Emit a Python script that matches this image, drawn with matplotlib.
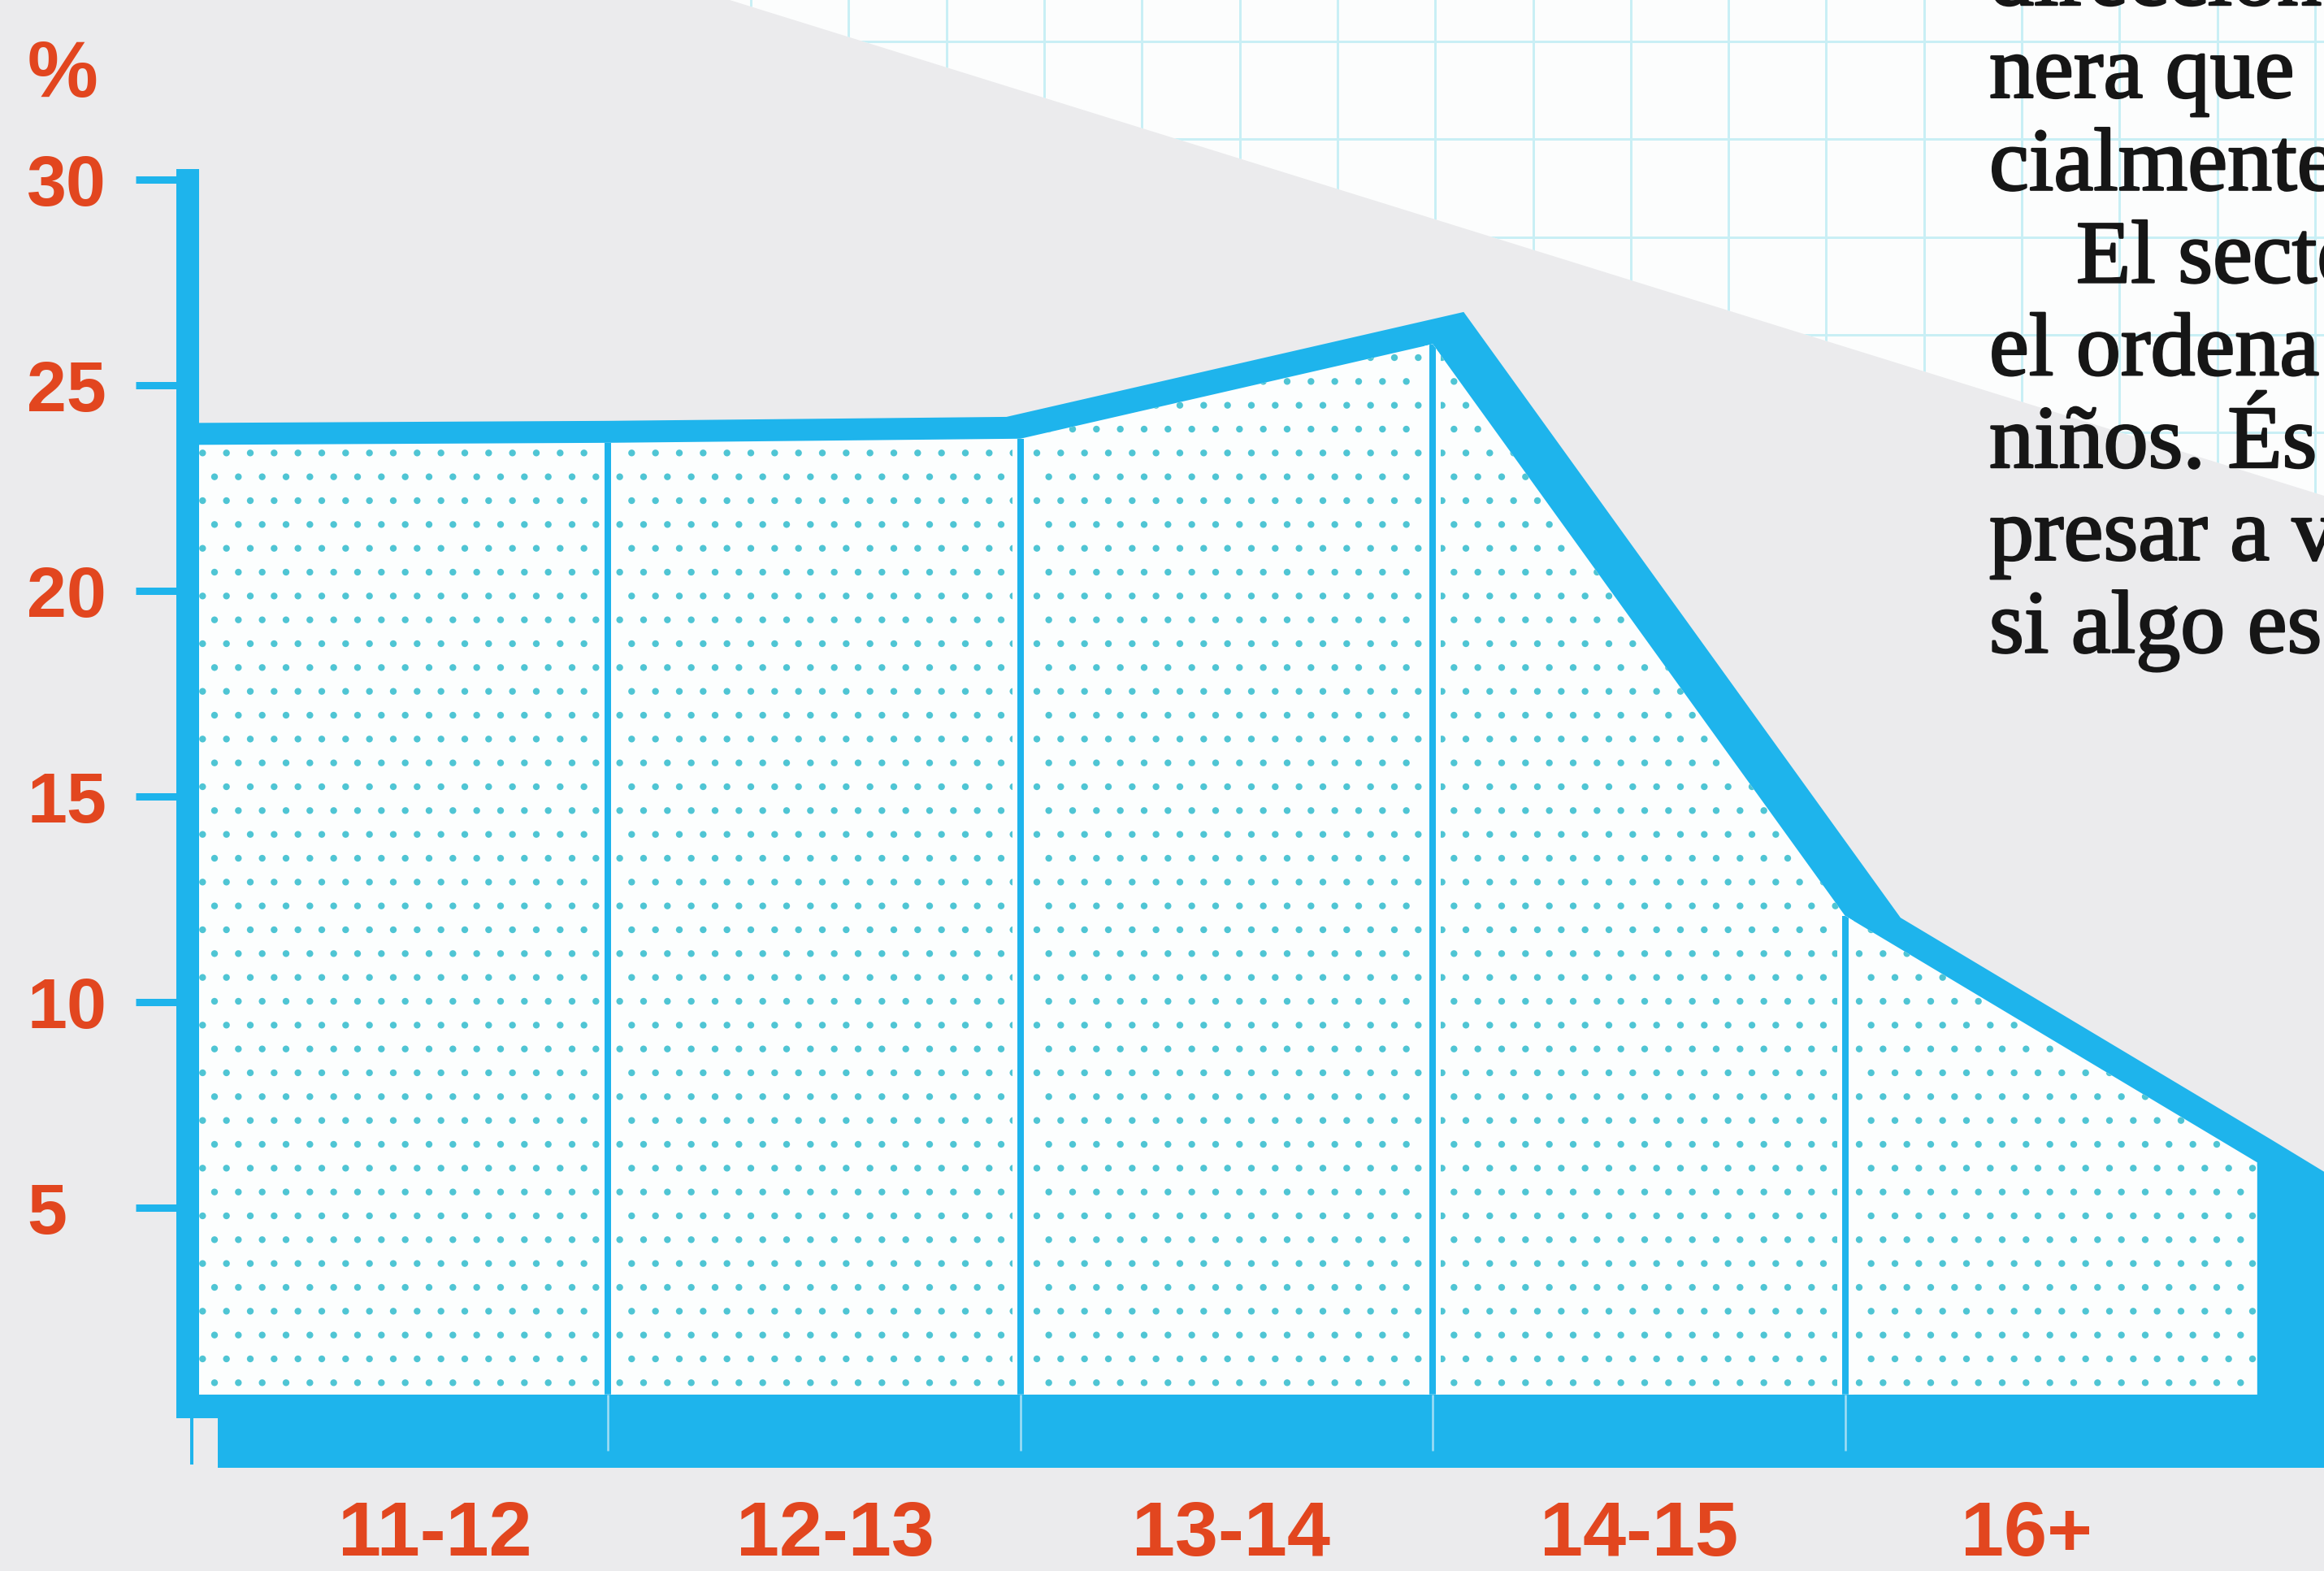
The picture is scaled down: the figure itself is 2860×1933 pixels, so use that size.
import matplotlib
matplotlib.use("Agg")
import matplotlib.pyplot as plt
from matplotlib.patches import Polygon
import matplotlib.patheffects as pe
import numpy as np

# ---------------- data ----------------
age_bounds = [11, 12, 13, 14, 15, 16, 17]          # 17 lies beyond the cropped edge
share_pct = [23.55, 23.6, 23.7, 26.0, 12.1, 6.1, 0.0]
age_labels = ["11-12", "12-13", "13-14", "14-15", "16+"]
y_ticks = [5, 10, 15, 20, 25, 30]
y_ticklabels = ["5", "10", "15", "20", "25", "30"]
y_unit = "%"
text_lines = ["dirección", "nera que", "cialmente", "El secto", "el ordena",
              "niños. És", "presar a v", "si algo es"]

# ---------------- style / layout ----------------
W, H, DPI = 2860, 1933, 176
PT = 72.0 / DPI
BLUE = "#1eb4ec"
DOT = "#4fc5d4"
FILL = "#fcfefe"
GREY = "#ebebed"
PAPER = "#fcfdfd"
GRID = "#c9eff5"
RED = "#e2461f"
INK = "#161616"
LABEL_FONT = ["Liberation Sans", "DejaVu Sans"]

plt.rcParams["hatch.color"] = DOT
plt.rcParams["hatch.linewidth"] = 1.0

fig = plt.figure(figsize=(W / DPI, (H + 0.01) / DPI), dpi=DPI)
ax = fig.add_axes([0, 0, 1, 1])
x0px, xscale = 241.15, 507.34
y0px, yscale = 1739.0, 50.6
ax.set_xlim(11 - x0px / xscale, 11 + (W - x0px) / xscale)
ax.set_ylim((y0px - H) / yscale, y0px / yscale)
ax.set_facecolor(GREY)

# paper background: white grid paper above a diagonal shadow edge
paper = Polygon([(898 / W, 1.0), (1.0, 1.0), (1.0, 1 - 610 / H)], closed=True,
                transform=ax.transAxes, facecolor=PAPER, edgecolor="none", zorder=0.1)
ax.add_patch(paper)
for gx in np.arange(82, W, 120.3):
    ln, = ax.plot([gx / W, gx / W], [0, 1], transform=ax.transAxes, color=GRID,
                  lw=3 * PT, zorder=0.2)
    ln.set_clip_path(paper)
for gy in np.arange(51, H, 120.3):
    ln, = ax.plot([0, 1], [1 - gy / H, 1 - gy / H], transform=ax.transAxes, color=GRID,
                  lw=3 * PT, zorder=0.2)
    ln.set_clip_path(paper)

# thick outline sitting on top of the area edge (variable thickness per segment)
seg_thick_px = [27, 27, 30, 54, 33, 33]
P = ax.transData.transform(np.column_stack([age_bounds, share_pct]))
d = P[1:] - P[:-1]
d = d / np.hypot(d[:, 0], d[:, 1])[:, None]
nrm = np.column_stack([-d[:, 1], d[:, 0]])
t = np.array(seg_thick_px, float)
outer = []
a0 = P[0] + t[0] * nrm[0]
s0 = (P[0, 0] - a0[0]) / d[0, 0]
outer.append(a0 + s0 * d[0])
for j in range(1, len(P) - 1):
    A = P[j] + t[j - 1] * nrm[j - 1]
    B = P[j] + t[j] * nrm[j]
    M = np.column_stack([d[j - 1], -d[j]])
    if abs(np.linalg.det(M)) < 1e-6:
        outer.append((A + B) / 2)
    else:
        s, _ = np.linalg.solve(M, B - A)
        outer.append(A + s * d[j - 1])
outer.append(P[-1] + t[-1] * nrm[-1])
inner = P - np.array([0, 5.0])
ring = np.vstack([np.array(outer), inner[::-1]])
ring_data = ax.transData.inverted().transform(ring)
ax.fill(ring_data[:, 0], ring_data[:, 1], color=BLUE, lw=0, zorder=2)

base_top, base_bot = 0.46, -1.32
n_main = len(age_labels) + 1
area = ax.fill_between(age_bounds[:n_main], share_pct[:n_main], base_top,
                       facecolor=FILL, edgecolor=DOT, hatch=".", linewidth=0, zorder=3)
ax.fill_between(age_bounds[n_main - 1:], share_pct[n_main - 1:], base_bot,
                facecolor=BLUE, edgecolor="none", linewidth=0, zorder=3)

# category dividers, clipped to the dotted area
clip_path = area.get_paths()[0]
inner_x = age_bounds[1:n_main - 1]
tops = share_pct[1:n_main - 1]
v1 = ax.vlines(inner_x, base_top, tops, colors=FILL, lw=20 * PT, zorder=4)
v2 = ax.vlines(inner_x, base_top, tops, colors=BLUE, lw=8 * PT, zorder=4.1)
for v in (v1, v2):
    v.set_clip_path(clip_path, ax.transData)

# thick base band
xmax = ax.get_xlim()[1] + 0.2
ax.fill_between([11.053, xmax], base_bot, base_top, color=BLUE, lw=0, zorder=5)
ax.fill_between([11.0, 11.053], -0.12, base_top, color=BLUE, lw=0, zorder=5)
ax.vlines(inner_x, -0.9, base_top, colors="#a3def5", lw=2.5 * PT, zorder=5.1)
ax.vlines([10.99], -1.25, -0.12, colors=BLUE, lw=4 * PT, zorder=5)

# left axis
sp = ax.spines["left"]
sp.set_position(("data", 10.98))
sp.set_bounds(-0.12, 30.25)
sp.set_linewidth(28 * PT)
sp.set_color(BLUE)
sp.set_capstyle("butt")
sp.set_zorder(6)
for s in ("right", "top"):
    ax.spines[s].set_visible(False)
ax.spines["bottom"].set_position(("data", base_bot))
ax.spines["bottom"].set_visible(False)

ax.set_yticks(y_ticks, y_ticklabels)
ax.tick_params(axis="y", length=64 * PT, width=9 * PT, color=BLUE, direction="out",
               pad=134 * PT, labelsize=36, labelcolor=RED)
for lab in ax.get_yticklabels():
    lab.set_ha("left")
    lab.set_family(LABEL_FONT)
    lab.set_fontweight("bold")

label_nudge = [0.08, 0.05, 0.01, 0.0, -0.06]
centers = [(a + b) / 2 + n for a, b, n in zip(age_bounds[:5], age_bounds[1:6], label_nudge)]
ax.set_xticks(centers, age_labels)
ax.tick_params(axis="x", length=0, pad=16, labelsize=39, labelcolor=RED)
for lab in ax.get_xticklabels():
    lab.set_family(LABEL_FONT)
    lab.set_fontweight("bold")

fig.text(34 / W, 1 - 119 / H, y_unit, ha="left", va="baseline", fontsize=40,
         fontweight="bold", color=RED, family=LABEL_FONT)

# magazine body text at the right
line_x = [2448, 2448, 2448, 2555, 2448, 2448, 2448, 2448]
for i, (s, lx) in enumerate(zip(text_lines, line_x)):
    by = 6 + 113.8 * i
    fig.text(lx / W, 1 - by / H, s, ha="left", va="baseline", fontsize=45,
             family=["Liberation Serif", "DejaVu Serif"], color=INK,
             path_effects=[pe.withStroke(linewidth=1.0, foreground=INK)])

fig.savefig("out.png", dpi=DPI)
